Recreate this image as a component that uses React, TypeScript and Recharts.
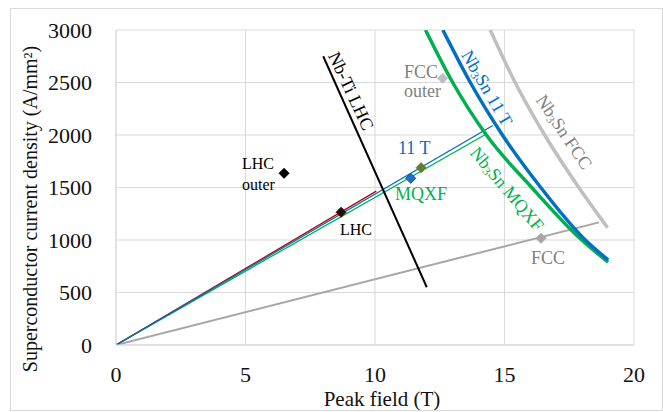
import React from "react"
import { CartesianGrid, ComposedChart, Line, Scatter, XAxis, YAxis } from "recharts"

// tick positions
const fieldTicks = [0, 5, 10, 15, 20]
const densityTicks = [0, 500, 1000, 1500, 2000, 2500, 3000]

// Nb-Ti LHC critical line
const ntiField = [8, 12]
const ntiDensity = [2750, 550]

// Nb3Sn critical surfaces (scaled)
const sn11tField = [12.62, 13.68, 14.92, 16.4, 18.12, 19.0]
const sn11tDensity = [3000, 2500, 2000, 1500, 1000, 810]
const snMqxfField = [11.95, 13.0, 14.3, 16.05, 17.98, 19.0]
const snMqxfDensity = [3000, 2500, 2000, 1500, 1000, 790]
const snFccField = [14.45, 15.41, 16.55, 17.87, 18.98]
const snFccDensity = [3000, 2500, 2000, 1500, 1117]

// load lines, origin to end point
const loadLhc = [0, 0, 10.05, 1465]
const load11t = [0, 0, 14.55, 2090]
const loadMqxf = [0, 0, 14.3, 2010]
const loadFcc = [0, 0, 18.65, 1168]

// operating points
const pointNames = ["LHC outer", "LHC", "11 T", "MQXF", "FCC outer", "FCC"]
const pointField = [6.49, 8.69, 11.38, 11.78, 12.61, 16.41]
const pointDensity = [1635, 1264, 1587, 1689, 2540, 1016]

const pointStyle: Record<string, { fill: string; stroke: string }> = {
  "LHC outer": { fill: "#000", stroke: "#000" },
  LHC: { fill: "#111", stroke: "#6b0000" },
  "11 T": { fill: "#1f6fc5", stroke: "#3b3b8f" },
  MQXF: { fill: "#5e7f31", stroke: "#5e7f31" },
  "FCC outer": { fill: "#bfbfbf", stroke: "#bfbfbf" },
  FCC: { fill: "#a6a6a6", stroke: "#a6a6a6" },
}

const zip = (xs: number[], ys: number[]) => xs.map((x, i) => ({ x, y: ys[i] }))
const seg = (l: number[]) => [
  { x: l[0], y: l[1] },
  { x: l[2], y: l[3] },
]

const W = 651
const H = 401

const font = '"Liberation Serif", "Times New Roman", serif'

function Diamond(props: any) {
  const { cx, cy, payload } = props
  const s = pointStyle[payload.name]
  const r = 5
  return (
    <polygon
      points={`${cx},${cy - r} ${cx + r},${cy} ${cx},${cy + r} ${cx - r},${cy}`}
      fill={s.fill}
      stroke={s.stroke}
      strokeWidth={1}
    />
  )
}

function Sub3({ size }: { size: number }) {
  return (
    <>
      Nb
      <tspan fontSize={size * 0.65} dy={4}>
        3
      </tspan>
      <tspan dy={-4}>Sn</tspan>
    </>
  )
}

export default function App() {
  const points = pointNames.map((name, i) => ({ name, x: pointField[i], y: pointDensity[i] }))
  const lbl = 18

  return (
    <div
      style={{
        position: "absolute",
        left: 10,
        top: 8,
        width: W,
        height: H,
        border: "1px solid #d9d9d9",
        background: "#fff",
        fontFamily: font,
      }}
    >
      <ComposedChart width={W} height={H} margin={{ top: 21, right: 28, bottom: 0, left: 0 }}>
        <CartesianGrid stroke="#d9d9d9" strokeWidth={1} />
        <XAxis
          type="number"
          dataKey="x"
          domain={[0, 20]}
          ticks={fieldTicks}
          allowDataOverflow
          height={65}
          tickLine={false}
          axisLine={{ stroke: "#d9d9d9" }}
          tickSize={0}
          tickMargin={21}
          tick={{ fill: "#111", fontSize: 22, fontFamily: font }}
        />
        <YAxis
          type="number"
          dataKey="y"
          domain={[0, 3000]}
          ticks={densityTicks}
          allowDataOverflow
          width={105}
          tickLine={false}
          axisLine={{ stroke: "#d9d9d9" }}
          tickSize={0}
          tickMargin={24}
          tick={{ fill: "#111", fontSize: 22, fontFamily: font }}
        />
        <Line data={seg(loadFcc)} dataKey="y" stroke="#a6a6a6" strokeWidth={2} dot={false} isAnimationActive={false} />
        <Line data={seg(loadMqxf)} dataKey="y" stroke="#00b050" strokeWidth={1.3} dot={false} isAnimationActive={false} />
        <Line data={seg(loadLhc)} dataKey="y" stroke="#c00000" strokeWidth={1.3} dot={false} isAnimationActive={false} />
        <Line data={seg(load11t)} dataKey="y" stroke="#0070c0" strokeWidth={1.3} dot={false} isAnimationActive={false} />
        <Line
          data={zip(ntiField, ntiDensity)}
          dataKey="y"
          stroke="#000"
          strokeWidth={2}
          dot={false}
          isAnimationActive={false}
        />
        <Line
          type="monotone"
          data={zip(snFccField, snFccDensity)}
          dataKey="y"
          stroke="#bfbfbf"
          strokeWidth={3.5}
          dot={false}
          isAnimationActive={false}
        />
        <Line
          type="monotone"
          data={zip(snMqxfField, snMqxfDensity)}
          dataKey="y"
          stroke="#00b050"
          strokeWidth={3.5}
          dot={false}
          isAnimationActive={false}
        />
        <Line
          type="monotone"
          data={zip(sn11tField, sn11tDensity)}
          dataKey="y"
          stroke="#0070c0"
          strokeWidth={3.5}
          dot={false}
          isAnimationActive={false}
        />
        <Scatter data={points} dataKey="y" shape={Diamond} isAnimationActive={false} />
      </ComposedChart>

      <svg
        width={W}
        height={H}
        style={{ position: "absolute", left: 0, top: 0, pointerEvents: "none" }}
        fontFamily={font}
      >
        {/* axis titles */}
        <text x={371} y={396.5} fontSize={21} textAnchor="middle" fill="#111">
          Peak field (T)
        </text>
        <text x={19} y={200} fontSize={20} textAnchor="middle" fill="#111" transform="rotate(-90 19 200)" dominantBaseline="central">
          Superconductor current density (A/mm²)
        </text>

        {/* curve labels */}
        <text x={340} y={82} fontSize={lbl} textAnchor="middle" dominantBaseline="central" fill="#000" transform="rotate(65 340 82)">
          Nb-Ti LHC
        </text>
        <text x={476} y={79} fontSize={lbl} textAnchor="middle" dominantBaseline="central" fill="#0070c0" transform="rotate(60 476 79)">
          <Sub3 size={lbl} /> 11 T
        </text>
        <text x={553} y={123} fontSize={lbl} textAnchor="middle" dominantBaseline="central" fill="#7f7f7f" transform="rotate(56 553 123)">
          <Sub3 size={lbl} /> FCC
        </text>
        <text x={496} y={180} fontSize={lbl} textAnchor="middle" dominantBaseline="central" fill="#00b050" transform="rotate(50 496 180)">
          <Sub3 size={lbl} /> MQXF
        </text>

        {/* point labels */}
        <text x={393} y={69} fontSize={lbl} fill="#7f7f7f">FCC</text>
        <text x={393} y={88} fontSize={lbl} fill="#7f7f7f">outer</text>
        <text x={387} y={145} fontSize={lbl} fill="#0070c0">11 T</text>
        <text x={384} y={191} fontSize={lbl} fill="#00b050">MQXF</text>
        <text x={231} y={160} fontSize={16} fill="#000">LHC</text>
        <text x={231} y={181} fontSize={16} fill="#000">outer</text>
        <text x={329} y={226} fontSize={16} fill="#000">LHC</text>
        <text x={520} y={255} fontSize={lbl} fill="#7f7f7f">FCC</text>
      </svg>
    </div>
  )
}
